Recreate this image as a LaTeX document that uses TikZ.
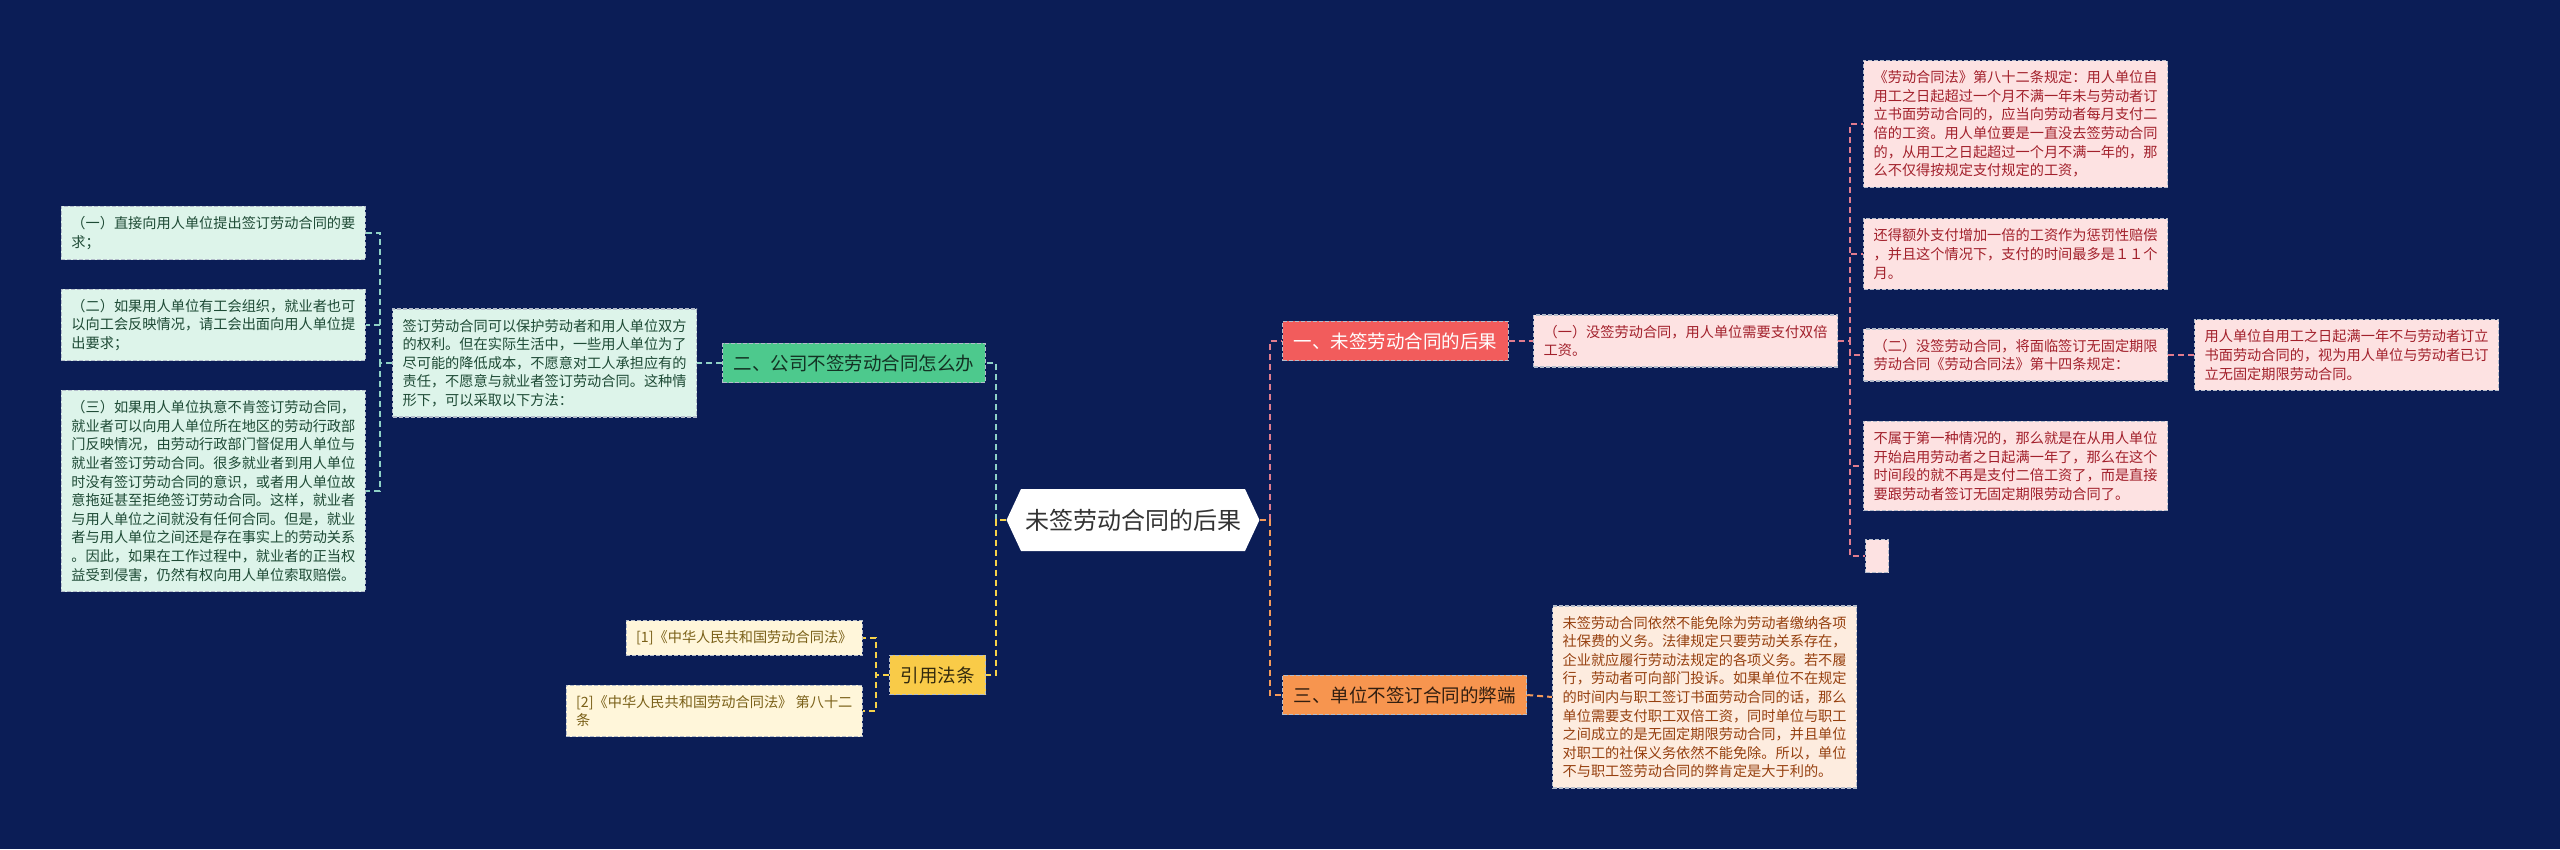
\documentclass[tikz,border=0pt]{standalone}
\usepackage{fontspec}
\setmainfont{Noto Sans CJK SC}
\usepackage{xcolor}
\usetikzlibrary{shapes.symbols}
\definecolor{bg}{HTML}{0B1D56}
\definecolor{edge}{HTML}{B4BCCB}
\definecolor{mint}{HTML}{DDF4EA}
\definecolor{mintink}{HTML}{1E4A35}
\definecolor{mintlink}{HTML}{8FD2C6}
\definecolor{green}{HTML}{4DC98D}
\definecolor{cream}{HTML}{FFF6DA}
\definecolor{creamink}{HTML}{7A6018}
\definecolor{sun}{HTML}{F9CB48}
\definecolor{sunlink}{HTML}{F6D24A}
\definecolor{coral}{HTML}{F25C5C}
\definecolor{rose}{HTML}{FDE2E2}
\definecolor{roseink}{HTML}{A2202B}
\definecolor{roselink}{HTML}{E27C8E}
\definecolor{amber}{HTML}{F7954F}
\definecolor{amberlink}{HTML}{F39A5A}
\definecolor{peach}{HTML}{FDECDF}
\definecolor{peachink}{HTML}{96400F}

\begin{document}
\begin{tikzpicture}[x=1pt,y=-1pt,
  link/.style={line width=2pt,dash pattern=on 6pt off 4pt},
  box/.style={rectangle,draw=edge,line width=1.2pt,dash pattern=on 4pt off 2pt},
  leaf/.style={box,inner xsep=10pt,inner ysep=10pt,align=left,
    font=\fontsize{14.2}{18.6}\selectfont},
  branch/.style={box,inner xsep=11pt,inner ysep=11pt,
    font=\fontsize{18.5}{22}\selectfont},
  mintleaf/.style={leaf,fill=mint,text=mintink},
  creamleaf/.style={leaf,fill=cream,text=creamink},
  roseleaf/.style={leaf,fill=rose,text=roseink},
  peachleaf/.style={leaf,fill=peach,text=peachink}]
\fill[bg] (0,0) rectangle (2560,849);
\useasboundingbox (0,0) rectangle (2560,849);

% spines
\coordinate (lsp) at (380,0);
\coordinate (ltrunk) at (996,0);
\coordinate (ysp) at (876,0);
\coordinate (rtrunk) at (1270,0);
\coordinate (rsp) at (1850,0);

% centre
\node[signal,signal to=west and east,signal pointer angle=130,fill=white,
  text=black!80,inner xsep=4pt,minimum height=62pt,
  font=\fontsize{24}{28}\selectfont] (c) at (1133,520) {未签劳动合同的后果};

% left: what to do
\node[branch,fill=green,text=black!75!green,anchor=west] (b2) at (722,363) {二、公司不签劳动合同怎么办};
\node[mintleaf,anchor=west] (g) at (392,363) {签订劳动合同可以保护劳动者和用人单位双方\\的权利。但在实际生活中，一些用人单位为了\\尽可能的降低成本，不愿意对工人承担应有的\\责任，不愿意与就业者签订劳动合同。这种情\\形下，可以采取以下方法：};
\node[mintleaf,anchor=east] (l1) at (366,233) {（一）直接向用人单位提出签订劳动合同的要\\求；};
\node[mintleaf,anchor=east] (l2) at (366,325) {（二）如果用人单位有工会组织，就业者也可\\以向工会反映情况，请工会出面向用人单位提\\出要求；};
\node[mintleaf,anchor=east] (l3) at (366,491) {（三）如果用人单位执意不肯签订劳动合同，\\就业者可以向用人单位所在地区的劳动行政部\\门反映情况，由劳动行政部门督促用人单位与\\就业者签订劳动合同。很多就业者到用人单位\\时没有签订劳动合同的意识，或者用人单位故\\意拖延甚至拒绝签订劳动合同。这样，就业者\\与用人单位之间就没有任何合同。但是，就业\\者与用人单位之间还是存在事实上的劳动关系\\。因此，如果在工作过程中，就业者的正当权\\益受到侵害，仍然有权向用人单位索取赔偿。};

% left: laws
\node[branch,fill=sun,text=black!80!sun,anchor=west] (b4) at (889,675) {引用法条};
\node[creamleaf,anchor=east] (y1) at (863,638) {[1]《中华人民共和国劳动合同法》};
\node[creamleaf,anchor=east] (y2) at (863,711) {[2]《中华人民共和国劳动合同法》 第八十二\\条};

% right: consequences
\node[branch,fill=coral,text=white,anchor=west] (b1) at (1282,341) {一、未签劳动合同的后果};
\node[roseleaf,anchor=west] (r1) at (1533,341) {（一）没签劳动合同，用人单位需要支付双倍\\工资。};
\node[roseleaf,anchor=west] (ra) at (1863,124) {《劳动合同法》第八十二条规定：用人单位自\\用工之日起超过一个月不满一年未与劳动者订\\立书面劳动合同的，应当向劳动者每月支付二\\倍的工资。用人单位要是一直没去签劳动合同\\的，从用工之日起超过一个月不满一年的，那\\么不仅得按规定支付规定的工资，};
\node[roseleaf,anchor=west] (rb) at (1863,254) {还得额外支付增加一倍的工资作为惩罚性赔偿\\，并且这个情况下，支付的时间最多是１１个\\月。};
\node[roseleaf,anchor=west] (rc) at (1863,355) {（二）没签劳动合同，将面临签订无固定期限\\劳动合同《劳动合同法》第十四条规定：};
\node[roseleaf,anchor=west] (rd) at (1863,466) {不属于第一种情况的，那么就是在从用人单位\\开始启用劳动者之日起满一年了，那么在这个\\时间段的就不再是支付二倍工资了，而是直接\\要跟劳动者签订无固定期限劳动合同了。};
\node[box,fill=rose,minimum width=23pt,minimum height=33pt,inner sep=0pt,anchor=west] (re) at (1865,556) {};
\node[roseleaf,anchor=west] (rc1) at (2194,355) {用人单位自用工之日起满一年不与劳动者订立\\书面劳动合同的，视为用人单位与劳动者已订\\立无固定期限劳动合同。};

% right: drawbacks
\node[branch,fill=amber,text=black!80!amber,anchor=west] (b3) at (1282,695) {三、单位不签订合同的弊端};
\node[peachleaf,anchor=west] (p1) at (1552,697) {未签劳动合同依然不能免除为劳动者缴纳各项\\社保费的义务。法律规定只要劳动关系存在，\\企业就应履行劳动法规定的各项义务。若不履\\行，劳动者可向部门投诉。如果单位不在规定\\的时间内与职工签订书面劳动合同的话，那么\\单位需要支付职工双倍工资，同时单位与职工\\之间成立的是无固定期限劳动合同，并且单位\\对职工的社保义务依然不能免除。所以，单位\\不与职工签劳动合同的弊肯定是大于利的。};

% connectors
\draw[link,mintlink] (c.west) -- (c.west -| ltrunk) |- (b2.east);
\draw[link,sunlink] (c.west) -- (c.west -| ltrunk) |- (b4.east);
\draw[link,roselink] (c.east) -- (c.east -| rtrunk) |- (b1.west);
\draw[link,amberlink] (c.east) -- (c.east -| rtrunk) |- (b3.west);
\draw[link,mintlink] (b2.west) -- (g.east);
\foreach \n in {l1,l2,l3}
  \draw[link,mintlink] (g.west) -- (g.west -| lsp) |- (\n.east);
\foreach \n in {y1,y2}
  \draw[link,sunlink] (b4.west) -- (b4.west -| ysp) |- (\n.east);
\draw[link,roselink] (b1.east) -- (r1.west);
\foreach \n in {ra,rb,rc,rd,re}
  \draw[link,roselink] (r1.east) -- (r1.east -| rsp) |- (\n.west);
\draw[link,roselink] (rc.east) -- (rc1.west);
\draw[link,amberlink] (b3.east) -- (p1.west);
\end{tikzpicture}
\end{document}
